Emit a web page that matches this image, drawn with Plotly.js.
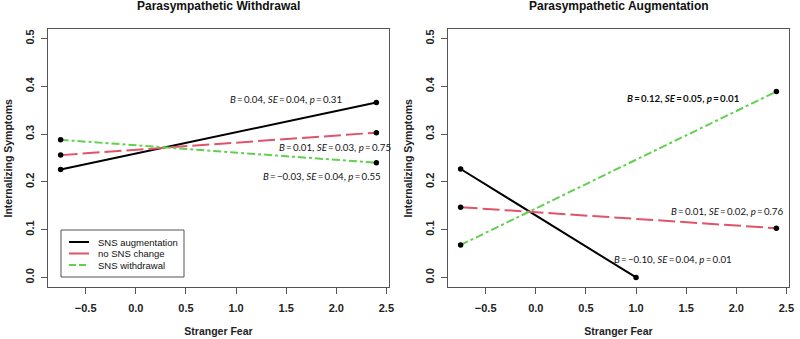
<!DOCTYPE html>
<html>
<head>
<meta charset="utf-8">
<script src="https://cdn.plot.ly/plotly-3.0.1.min.js"></script>
<style>html,body{margin:0;padding:0;background:#fff;}#chart{width:800px;height:339px;}</style>
</head>
<body>
<div id="chart"></div>
<script>
// ---- data ----
const seriesNames = ["SNS augmentation", "no SNS change", "SNS withdrawal"];
const strangerFear = [-0.75, 2.4];
// Parasympathetic Withdrawal panel
const pwAug = [0.226, 0.366];
const pwNoChange = [0.256, 0.303];
const pwWithdrawal = [0.288, 0.240];
// Parasympathetic Augmentation panel
const paAugX = [-0.75, 1.0];
const paAug = [0.227, 0.0];
const paNoChange = [0.147, 0.103];
const paWithdrawal = [0.068, 0.389];
const panelTitles = ["Parasympathetic Withdrawal", "Parasympathetic Augmentation"];
const xTitle = "Stranger Fear";
const yTitle = "Internalizing Symptoms";
const xTickVals = [-0.5, 0, 0.5, 1, 1.5, 2, 2.5];
const xTickText = ["\u22120.5", "0.0", "0.5", "1.0", "1.5", "2.0", "2.5"];
const yTickVals = [0, 0.1, 0.2, 0.3, 0.4, 0.5];
const yTickText = ["0.0", "0.1", "0.2", "0.3", "0.4", "0.5"];
// statistic labels: [x, y, text]
const T = "\u2009";
const pwStats = [
  [1.50, 0.373, `<i>B</i>${T}=${T}0.04, <i>SE</i>${T}=${T}0.04, <i>p</i>${T}=${T}0.31`],
  [1.985, 0.274, `<i>B</i>${T}=${T}0.01, <i>SE</i>${T}=${T}0.03, <i>p</i>${T}=${T}0.75`],
  [1.86, 0.213, `<i>B</i>${T}=${T}\u22120.03, <i>SE</i>${T}=${T}0.04, <i>p</i>${T}=${T}0.55`]
];
const paStats = [
  [1.477, 0.375, `<b><i>B</i>${T}=${T}0.12, <i>SE</i>${T}=${T}0.05, <i>p</i>${T}=${T}0.01</b>`],
  [1.905, 0.140, `<i>B</i>${T}=${T}0.01, <i>SE</i>${T}=${T}0.02, <i>p</i>${T}=${T}0.76`],
  [1.368, 0.039, `<i>B</i>${T}=${T}\u22120.10, <i>SE</i>${T}=${T}0.04, <i>p</i>${T}=${T}0.01`]
];

const colors = ["#000000", "#DF536B", "#61D04F"];
const dashes = ["solid", "17px,5px", "8px,3px,3px,3px"];

const traces = [];
function addPanel(xs, ys, xa, ya) {
  for (let i = 0; i < 3; i++) {
    traces.push({
      x: xs[i], y: ys[i], xaxis: xa, yaxis: ya, type: "scatter", mode: "lines",
      name: seriesNames[i], showlegend: false,
      line: {color: colors[i], width: 2, dash: dashes[i]}, hoverinfo: "skip"
    });
  }
  for (let i = 0; i < 3; i++) {
    traces.push({
      x: xs[i], y: ys[i], xaxis: xa, yaxis: ya, type: "scatter", mode: "markers",
      showlegend: false, marker: {color: "#000", size: 5.5}, hoverinfo: "skip"
    });
  }
}
addPanel([strangerFear, strangerFear, strangerFear], [pwAug, pwNoChange, pwWithdrawal], "x", "y");
addPanel([paAugX, strangerFear, strangerFear], [paAug, paNoChange, paWithdrawal], "x2", "y2");

const FAM = "Liberation Sans, Arial, sans-serif";
const tickFont = {family: FAM, size: 11, color: "#222", weight: "bold"};
const axTitleFont = {family: FAM, size: 10.5, color: "#222", weight: "bold"};
function xAxis(domain, anchor) {
  return {
    domain: domain, anchor: anchor, range: [-0.876, 2.526],
    tickmode: "array", tickvals: xTickVals, ticktext: xTickText,
    ticks: "outside", ticklen: 6, tickcolor: "#555", tickwidth: 1, ticklabelstandoff: 5,
    showline: true, mirror: true, linecolor: "#555", linewidth: 1,
    showgrid: false, zeroline: false, tickfont: tickFont,
    title: {text: xTitle, font: axTitleFont, standoff: 14}
  };
}
function yAxis(anchor) {
  return {
    domain: [0.1534, 0.9145], anchor: anchor, range: [-0.02, 0.52],
    tickmode: "array", tickvals: yTickVals, ticktext: yTickText, tickangle: -90,
    ticks: "outside", ticklen: 6, tickcolor: "#555", tickwidth: 1, ticklabelstandoff: 3,
    showline: true, mirror: true, linecolor: "#555", linewidth: 1,
    showgrid: false, zeroline: false, tickfont: tickFont
  };
}

const statFont = {family: "Lato, sans-serif", size: 9.7, color: "#111"};
const annotations = [];
pwStats.forEach(s => annotations.push({x: s[0], y: s[1], xref: "x", yref: "y", text: s[2], showarrow: false, font: statFont, xanchor: "center", yanchor: "middle"}));
paStats.forEach(s => annotations.push({x: s[0], y: s[1], xref: "x2", yref: "y2", text: s[2], showarrow: false, font: statFont, xanchor: "center", yanchor: "middle"}));
const titleFont = {family: FAM, size: 12, color: "#111", weight: "bold"};
const W = 800, H = 339;
[218.5, 618.5].forEach((cx, i) => {
  annotations.push({x: cx/W, y: 1 - 6.5/H, xref: "paper", yref: "paper", text: panelTitles[i], showarrow: false,
    font: titleFont, xanchor: "center", yanchor: "middle"});
});
// y-axis titles placed at the left edge of each panel
[7.5, 407.5].forEach(cx => {
  annotations.push({x: cx/W, y: 1 - 158/H, xref: "paper", yref: "paper", text: yTitle, showarrow: false,
    textangle: -90, font: axTitleFont, xanchor: "center", yanchor: "middle"});
});

// custom compact legend (box, line samples, labels) in paper coordinates
const shapes = [{
  type: "rect", xref: "paper", yref: "paper",
  x0: 61/W, x1: 184/W, y0: 1 - 277/H, y1: 1 - 230/H,
  line: {color: "#555", width: 1}, fillcolor: "#fff", layer: "above"
}];
const rowsY = [242, 253.5, 265];
seriesNames.forEach((n, i) => {
  shapes.push({type: "line", xref: "paper", yref: "paper",
    x0: 69/W, x1: 89/W, y0: 1 - rowsY[i]/H, y1: 1 - rowsY[i]/H,
    line: {color: colors[i], width: 2, dash: i === 2 ? "7px,3px" : "solid"}, layer: "above"});
  annotations.push({x: 96/W, y: 1 - rowsY[i]/H, xref: "paper", yref: "paper", text: n, showarrow: false,
    xanchor: "left", yanchor: "middle", font: {family: FAM, size: 9.5, color: "#111"}});
});

const layout = {
  width: 800, height: 339,
  margin: {l: 0, r: 0, t: 0, b: 0},
  paper_bgcolor: "#fff", plot_bgcolor: "#fff",
  showlegend: false,
  xaxis: xAxis([0.06, 0.48625], "y"),
  yaxis: yAxis("x"),
  xaxis2: xAxis([0.56, 0.98625], "y2"),
  yaxis2: yAxis("x2"),
  annotations: annotations,
  shapes: shapes
};

Plotly.newPlot("chart", traces, layout, {staticPlot: true, displayModeBar: false});
</script>
</body>
</html>
